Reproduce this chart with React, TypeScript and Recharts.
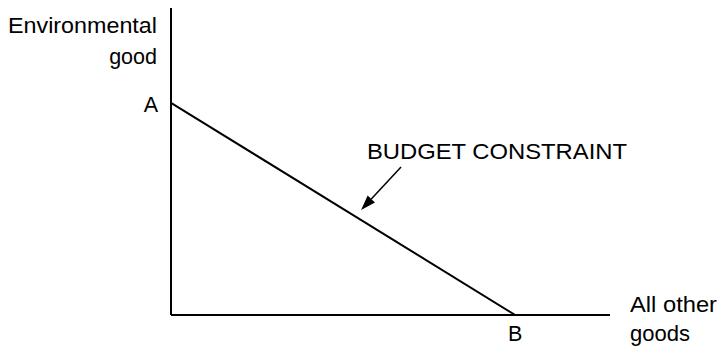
import React from "react";
import { ComposedChart, Line, XAxis, YAxis, ReferenceLine, Label } from "recharts";

// budget line end points (x = all other goods, y = environmental good)
const budgetPoints = [
  { x: 0, y: 69.1 },
  { x: 78.4, y: 0 },
];
const xTicks = [78.4];
const yTicks = [69.1];
const xTickNames: Record<number, string> = { 78.4: "B" };
const yTickNames: Record<number, string> = { 69.1: "A" };
const arrowSegment = [
  { x: 52.4, y: 48.2 },
  { x: 43.3, y: 34.2 },
];

const FONT = "'Liberation Sans', Arial, Helvetica, sans-serif";
const SIZE = 21.5;

function ArrowShape(props: any) {
  const { x1, y1, x2, y2 } = props;
  if (x1 == null) return null;
  const dx = x2 - x1;
  const dy = y2 - y1;
  const len = Math.sqrt(dx * dx + dy * dy);
  const ux = dx / len;
  const uy = dy / len;
  const headLen = 15;
  const headW = 5;
  const bx = x2 - ux * headLen;
  const by = y2 - uy * headLen;
  return (
    <g>
      <line x1={x1} y1={y1} x2={bx} y2={by} stroke="#000" strokeWidth={1.5} />
      <polygon
        points={`${x2},${y2} ${bx - uy * headW},${by + ux * headW} ${bx + uy * headW},${by - ux * headW}`}
        fill="#000"
      />
      <text x={367} y={159} fontFamily={FONT} fontSize={SIZE} textLength={260} lengthAdjust="spacingAndGlyphs" fill="#000">
        BUDGET CONSTRAINT
      </text>
    </g>
  );
}

function YLabel(props: any) {
  const { viewBox } = props;
  const right = viewBox.x + viewBox.width - 14;
  return (
    <g>
      <text x={right} y={33} textAnchor="end" fontFamily={FONT} fontSize={SIZE} textLength={149} lengthAdjust="spacingAndGlyphs" fill="#000">
        Environmental
      </text>
      <text x={right} y={64} textAnchor="end" fontFamily={FONT} fontSize={SIZE} fill="#000">
        good
      </text>
    </g>
  );
}

function XLabel(props: any) {
  const { viewBox } = props;
  const left = viewBox.x + viewBox.width + 20;
  return (
    <g>
      <text x={left} y={312} fontFamily={FONT} fontSize={SIZE} textLength={87} lengthAdjust="spacingAndGlyphs" fill="#000">
        All other
      </text>
      <text x={left} y={341} fontFamily={FONT} fontSize={SIZE} textLength={60} lengthAdjust="spacingAndGlyphs" fill="#000">
        goods
      </text>
    </g>
  );
}

export default function App() {
  return (
    <div style={{ width: 720, height: 346, background: "#fff" }}>
      <style>{`body{margin:0}`}</style>
      <ComposedChart width={720} height={346} data={budgetPoints} margin={{ top: 8, right: 110, bottom: 1, left: 131 }}>
        <XAxis
          dataKey="x"
          type="number"
          domain={[0, 100]}
          ticks={xTicks}
          tickFormatter={(v) => xTickNames[v] ?? ""}
          axisLine={{ stroke: "#000", strokeWidth: 2 }}
          tickLine={false}
          tickSize={0}
          tickMargin={11}
          height={30}
          tick={{ fill: "#000", fontSize: SIZE, fontFamily: FONT }}
        >
          <Label content={<XLabel />} />
        </XAxis>
        <YAxis
          type="number"
          domain={[0, 100]}
          ticks={yTicks}
          tickFormatter={(v) => yTickNames[v] ?? ""}
          axisLine={{ stroke: "#000", strokeWidth: 2 }}
          tickLine={false}
          tickSize={0}
          tickMargin={13}
          width={40}
          tick={{ fill: "#000", fontSize: SIZE, fontFamily: FONT, dy: 2 }}
        >
          <Label content={<YLabel />} />
        </YAxis>
        <Line
          dataKey="y"
          type="linear"
          stroke="#000"
          strokeWidth={2}
          dot={false}
          isAnimationActive={false}
        />
        <ReferenceLine segment={arrowSegment} shape={<ArrowShape />} ifOverflow="visible" />
      </ComposedChart>
    </div>
  );
}
